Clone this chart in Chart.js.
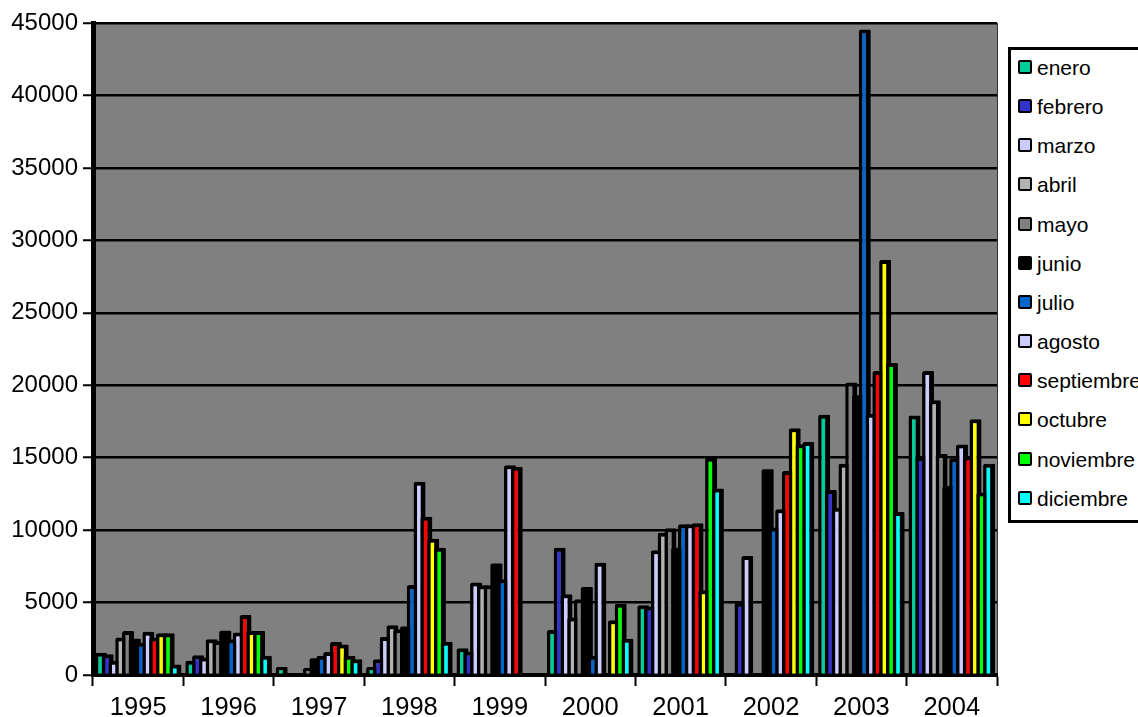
<!DOCTYPE html>
<html>
<head>
<meta charset="utf-8">
<script src="https://cdn.jsdelivr.net/npm/chart.js@4"></script>
<style>
html, body { margin:0; padding:0; background:#fff; overflow:hidden; width:1138px; height:717px; }
#chart { position:absolute; left:0; top:0; }
#legend { position:absolute; left:1008px; top:47px; width:150px; height:470px; border:3px solid #000; background:#fff; box-sizing:content-box;
    font-family:"Liberation Sans", Arial, sans-serif; font-size:21px; color:#000; }
.row { position:absolute; left:7px; height:20px; line-height:20px; white-space:nowrap; }
.swatch { display:inline-block; width:10px; height:10px; border:2.5px solid #000; border-radius:2px; vertical-align:top; margin-top:2px; margin-right:5px; }
</style>
</head>
<body>
<canvas id="chart" width="1138" height="717"></canvas>
<div id="legend"></div>
<script>
const years = ['1995','1996','1997','1998','1999','2000','2001','2002','2003','2004'];
const months = ['enero','febrero','marzo','abril','mayo','junio','julio','agosto','septiembre','octubre','noviembre','diciembre'];
const colors = ['#00CC99','#3333CC','#CCCCFF','#B2B2B2','#808080','#000000','#0066CC','#CCCCFF','#FF0000','#FFFF00','#00FF00','#00FFFF'];

const enero      = [1530,  980,  560,  560, 1840, 3110, 4810,     0, 17960, 17910];
const febrero    = [1430, 1360,    0, 1080, 1620, 8790, 4720,  4980, 12760, 15030];
const marzo      = [ 980, 1200,    0, 2630, 6380, 5580, 8610,  8210, 11540, 20980];
const abril      = [2580, 2470,    0, 3430, 6190, 3960, 9820,     0, 14580, 18960];
const mayo       = [3030, 2350,  480, 3160, 6190, 5230,10130,     0, 20180, 15260];
const junio      = [2500, 3060, 1150, 3340, 7700, 6080, 8780, 14200, 19300, 13050];
const julio      = [2230, 2470, 1320, 6210, 6610, 1320,10400, 10180, 44550, 14960];
const agosto     = [2980, 2930, 1590,13340,14480, 7750,10400, 11440, 18030, 15910];
const septiembre = [2580, 4140, 2280,10930,14380,    0,10480, 14080, 20980, 15080];
const octubre    = [2880, 3040, 2100, 9410,    0, 3780, 5850, 17030, 28650, 17650];
const noviembre  = [2880, 3040, 1320, 8790,    0, 4920,15000, 15920, 21530, 12600];
const diciembre  = [ 730, 1320, 1080, 2300,    0, 2510,12870, 16080, 11250, 14580];
const series = [enero, febrero, marzo, abril, mayo, junio, julio, agosto, septiembre, octubre, noviembre, diciembre];

const fontFamily = '"Liberation Sans", Arial, sans-serif';

// legend box, cut off by the right edge like the original
const legend = document.getElementById('legend');
months.forEach((m, i) => {
    const row = document.createElement('div');
    row.className = 'row';
    row.style.top = (8 + i * 39.15) + 'px';
    row.innerHTML = '<span class="swatch" style="background:' + colors[i] + '"></span>' + m;
    legend.appendChild(row);
});

// grey plot area and thin right edge
const plotBackground = {
    id: 'plotBackground',
    beforeDraw(chart) {
        const a = chart.chartArea, ctx = chart.ctx;
        ctx.save();
        ctx.fillStyle = '#808080';
        ctx.fillRect(a.left, a.top, a.right - a.left, a.bottom - a.top);
        ctx.strokeStyle = '#333';
        ctx.lineWidth = 1;
        ctx.beginPath();
        ctx.moveTo(a.right + 0.5, a.top);
        ctx.lineTo(a.right + 0.5, a.bottom);
        ctx.stroke();
        ctx.restore();
    }
};

// later months have to sit on top of earlier ones (Chart.js draws the other way round)
const drawInOrder = {
    id: 'drawInOrder',
    beforeDatasetsDraw(chart) {
        chart.getSortedVisibleDatasetMetas().forEach(m => m.controller.draw());
        return false;
    }
};

new Chart(document.getElementById('chart'), {
    type: 'bar',
    data: {
        labels: years,
        datasets: months.map((m, i) => ({
            label: m,
            data: series[i],
            backgroundColor: colors[i],
            borderColor: '#000',
            // junio is plain black, a border only leaves a seam there
            borderWidth: m === 'junio' ? 0 : { left: 3.5, right: 5, top: 4, bottom: 0 },
            borderSkipped: false,
            borderRadius: { topLeft: 2, topRight: 1, bottomLeft: 0, bottomRight: 0 }
        }))
    },
    options: {
        responsive: false,
        animation: false,
        datasets: { bar: { categoryPercentage: 0.9, barPercentage: 1.77 } },
        layout: { padding: { top: 23, right: 141, left: 0, bottom: 0 } },
        plugins: { legend: { display: false }, tooltip: { enabled: false } },
        scales: {
            x: {
                afterFit: s => { s.height = 42; },
                border: { color: '#000', width: 4 },
                grid: { drawOnChartArea: false, drawTicks: true, tickLength: 11, tickColor: '#000', tickWidth: 2 },
                ticks: { color: '#000', font: { family: fontFamily, size: 25.5 }, padding: 7, maxRotation: 0 }
            },
            y: {
                min: 0,
                max: 45000,
                afterFit: s => { s.width = 93; },
                border: { color: '#000', width: 5 },
                grid: { color: '#000', lineWidth: 2.5, tickLength: 10, tickColor: '#000', tickWidth: 2 },
                ticks: { stepSize: 5000, color: '#000', font: { family: fontFamily, size: 24 }, padding: 5, callback: v => String(v) }
            }
        }
    },
    plugins: [plotBackground, drawInOrder]
});
</script>
</body>
</html>
